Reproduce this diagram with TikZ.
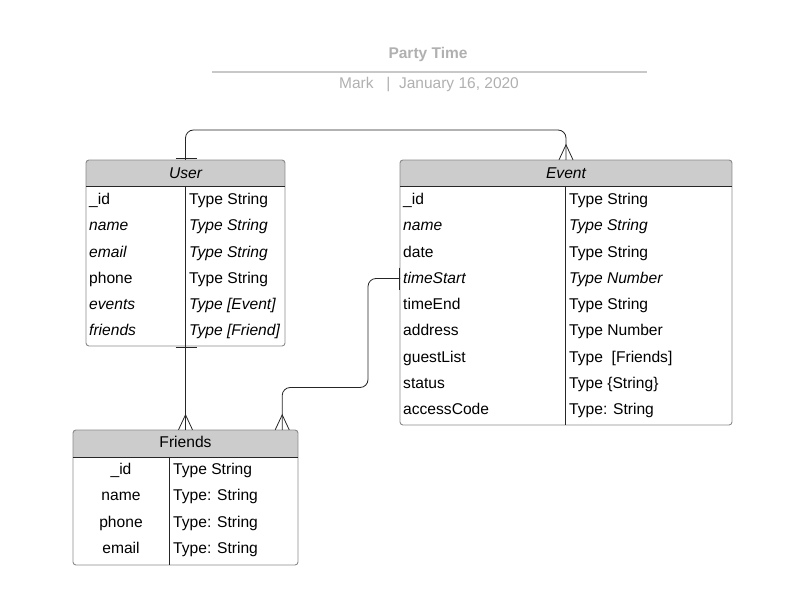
\documentclass[tikz,border=0pt]{standalone}
\usepackage{fontspec}
\setmainfont{Liberation Sans}
\usetikzlibrary{calc}
\definecolor{hdrgray}{HTML}{CCCCCC}
\definecolor{bordergray}{HTML}{8A8A8A}
\definecolor{titlegray}{HTML}{B0B0B0}
\begin{document}
\begin{tikzpicture}[x=1pt,y=-1pt,
  tbl/.style={draw=bordergray,line width=0.9pt,rounded corners=3pt,inner sep=0pt,rectangle},
  cell/.style={anchor=base west,inner sep=0pt,yshift=-5.6pt,font=\fontsize{15.6}{18}\selectfont},
  ccell/.style={anchor=base,inner sep=0pt,yshift=-5.6pt,font=\fontsize{15.6}{18}\selectfont},
  hdrtext/.style={anchor=base,inner sep=0pt,yshift=-5.6pt,font=\fontsize{15.6}{18}\selectfont},
  conn/.style={line width=0.8pt,draw=black!85},
  inner/.style={line width=0.8pt,draw=black!85}]
\useasboundingbox (0,0) rectangle (789,615);
% Title
\node[anchor=base,inner sep=0pt,font=\bfseries\fontsize{15.5}{18}\selectfont,text=titlegray] (title) at (428,58.5) {Party Time};
\draw[titlegray!70,line width=2pt] (212,72) coordinate (tl) -- (647,72) coordinate (tr);
\node[anchor=base,inner sep=0pt,font=\fontsize{15.5}{18}\selectfont,text=titlegray] (sub) at (429,89) {Mark\ \ \ |\ \ January 16, 2020};

% ---------- User ----------
\node[minimum width=199pt,minimum height=186pt,inner sep=0pt] (user) at (185.5,253) {};
\begin{scope}
\clip[rounded corners=3pt] (user.north west) rectangle (user.south east);
\fill[hdrgray] (user.north west) rectangle (285,186);
\end{scope}
\node[tbl,minimum width=199pt,minimum height=186pt] at (user) {};
\draw[inner] (86,186) -- (285,186);
\draw[inner] (185,186) -- (185,346);
\node[hdrtext] (userh) at (185.5,172.5) {\itshape User};
\node[cell] (u1) at (89,199) {\_id};
\node[cell] (u2) at (89,225.2) {\itshape name};
\node[cell] (u3) at (89,251.4) {\itshape email};
\node[cell] (u4) at (89,277.6) {phone};
\node[cell] (u5) at (89,303.8) {\itshape events};
\node[cell] (u6) at (89,330) {\itshape friends};
\node[cell] (v1) at (189,199) {Type String};
\node[cell] (v2) at (189,225.2) {\itshape Type String};
\node[cell] (v3) at (189,251.4) {\itshape Type String};
\node[cell] (v4) at (189,277.6) {Type String};
\node[cell] (v5) at (189,303.8) {\itshape Type [Event]};
\node[cell] (v6) at (189,330) {\itshape Type [Friend]};

% ---------- Event ----------
\node[minimum width=332pt,minimum height=265pt,inner sep=0pt] (event) at (566,292.5) {};
\begin{scope}
\clip[rounded corners=3pt] (event.north west) rectangle (event.south east);
\fill[hdrgray] (event.north west) rectangle (732,186);
\end{scope}
\node[tbl,minimum width=332pt,minimum height=265pt] at (event) {};
\draw[inner] (400,186) -- (732,186);
\draw[inner] (565,186) -- (565,425);
\node[hdrtext] (eventh) at (566,172.5) {\itshape Event};
\node[cell] (e1) at (403,199) {\_id};
\node[cell] (e2) at (403,225.25) {\itshape name};
\node[cell] (e3) at (403,251.5) {date};
\node[cell] (e4) at (403,277.75) {\itshape timeStart};
\node[cell] (e5) at (403,304) {timeEnd};
\node[cell] (e6) at (403,330.25) {address};
\node[cell] (e7) at (403,356.5) {guestList};
\node[cell] (e8) at (403,382.75) {status};
\node[cell] (e9) at (403,409) {accessCode};
\node[cell] (f1) at (569,199) {Type String};
\node[cell] (f2) at (569,225.25) {\itshape Type String};
\node[cell] (f3) at (569,251.5) {Type String};
\node[cell] (f4) at (569,277.75) {\itshape Type Number};
\node[cell] (f5) at (569,304) {Type String};
\node[cell] (f6) at (569,330.25) {Type Number};
\node[cell] (f7) at (569,356.5) {Type\ \ [Friends]};
\node[cell] (f8) at (569,382.75) {Type \{String\}};
\node[cell] (f9) at (569,409) {Type: String};

% ---------- Friends ----------
\node[minimum width=225pt,minimum height=135pt,inner sep=0pt] (friends) at (185.5,497.5) {};
\begin{scope}
\clip[rounded corners=3pt] (friends.north west) rectangle (friends.south east);
\fill[hdrgray] (friends.north west) rectangle (298,457);
\end{scope}
\node[tbl,minimum width=225pt,minimum height=135pt] at (friends) {};
\draw[inner] (73,457) -- (298,457);
\draw[inner] (169,457) -- (169,565);
\node[hdrtext] (friendsh) at (185.5,442) {Friends};
\node[ccell] (g1) at (121,469) {\_id};
\node[ccell] (g2) at (121,495.3) {name};
\node[ccell] (g3) at (121,521.6) {phone};
\node[ccell] (g4) at (121,548) {email};
\node[cell] (h1) at (173,469) {Type String};
\node[cell] (h2) at (173,495.3) {Type: String};
\node[cell] (h3) at (173,521.6) {Type: String};
\node[cell] (h4) at (173,548) {Type: String};

% ---------- Connectors ----------
% User -> Event
\coordinate (k0) at (375,130);
\draw[conn,rounded corners=8pt] (user.north) |- (k0) -| (event.north);
\draw[conn] ($(user.north)+(-10,-1.5)$) -- ($(user.north)+(11,-1.5)$);
\draw[conn] ($(event.north)+(-7,0)$) -- ($(event.north)+(0,-15)$) -- ($(event.north)+(7,0)$);

% User -> Friends
\draw[conn] (user.south) -- (friends.north);
\draw[conn] ($(user.south)+(-10,1)$) -- ($(user.south)+(11,1)$);
\draw[conn] ($(friends.north)+(-7,0)$) -- ($(friends.north)+(0,-15)$) -- ($(friends.north)+(7,0)$);

% Event(timeStart) -> Friends
\coordinate (ep) at (event.west |- e4);
\coordinate (k1) at (368,387.5);
\coordinate (fq) at ($(friends.north east)+(-16,0)$);
\draw[conn,rounded corners=8pt] (400,278.5) -| (k1) -| (fq);
\draw[conn] (399,267.5) -- (399,289.5);
\draw[conn] ($(fq)+(-7,0)$) -- ($(fq)+(0,-15)$) -- ($(fq)+(7,0)$);
\end{tikzpicture}
\end{document}
